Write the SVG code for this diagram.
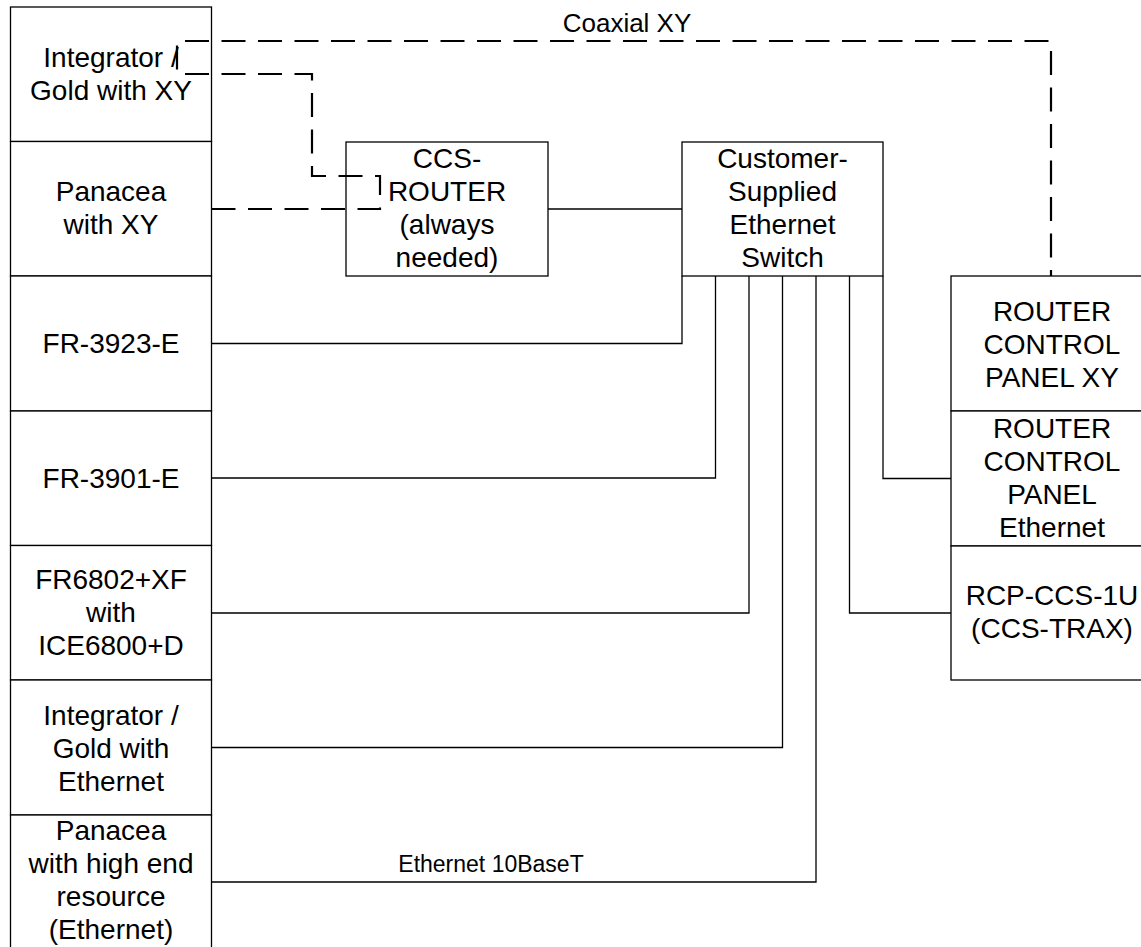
<svg xmlns="http://www.w3.org/2000/svg" width="1141" height="947" viewBox="0 0 1141 947">
<style>
.box{fill:#fff;stroke:#000;stroke-width:1.3}
.t{font-family:"Liberation Sans",Arial,sans-serif;font-size:28px;fill:#000;text-anchor:middle}
.lbl{font-family:"Liberation Sans",Arial,sans-serif;fill:#000;text-anchor:middle}
.wire{fill:none;stroke:#000;stroke-width:1.3}
.coax{fill:none;stroke:#000;stroke-width:2.2;stroke-dasharray:24 12.5}
</style>
<rect width="1141" height="947" fill="#fff"/>
<g id="integrator-xy">
<rect class="box" x="10.5" y="7" width="201" height="134.5"/>
<text class="t" x="111" y="66.5">Integrator /</text>
<text class="t" x="111" y="99.5">Gold with XY</text>
</g>
<g id="panacea-xy">
<rect class="box" x="10.5" y="141.5" width="201" height="134.5"/>
<text class="t" x="111" y="201">Panacea</text>
<text class="t" x="111" y="234">with XY</text>
</g>
<g id="fr3923">
<rect class="box" x="10.5" y="276" width="201" height="135"/>
<text class="t" x="111" y="353">FR-3923-E</text>
</g>
<g id="fr3901">
<rect class="box" x="10.5" y="411" width="201" height="134.5"/>
<text class="t" x="111" y="487.5">FR-3901-E</text>
</g>
<g id="fr6802">
<rect class="box" x="10.5" y="545.5" width="201" height="134.5"/>
<text class="t" x="111" y="589">FR6802+XF</text>
<text class="t" x="111" y="622">with</text>
<text class="t" x="111" y="655">ICE6800+D</text>
</g>
<g id="integrator-eth">
<rect class="box" x="10.5" y="680" width="201" height="135"/>
<text class="t" x="111" y="725">Integrator /</text>
<text class="t" x="111" y="758">Gold with</text>
<text class="t" x="111" y="791">Ethernet</text>
</g>
<g id="panacea-eth">
<rect class="box" x="10.5" y="815" width="201" height="140"/>
<text class="t" x="111" y="840">Panacea</text>
<text class="t" x="111" y="873">with high end</text>
<text class="t" x="111" y="906">resource</text>
<text class="t" x="111" y="939">(Ethernet)</text>
</g>
<g id="ccs-router">
<rect class="box" x="346" y="142" width="202" height="134"/>
<text class="t" x="447" y="168">CCS-</text>
<text class="t" x="447" y="201">ROUTER</text>
<text class="t" x="447" y="234">(always</text>
<text class="t" x="447" y="267">needed)</text>
</g>
<g id="switch">
<rect class="box" x="682" y="142" width="201" height="134"/>
<text class="t" x="782.5" y="168">Customer-</text>
<text class="t" x="782.5" y="201">Supplied</text>
<text class="t" x="782.5" y="234">Ethernet</text>
<text class="t" x="782.5" y="267">Switch</text>
</g>
<g id="rcp-xy">
<rect class="box" x="951" y="276" width="202" height="135"/>
<text class="t" x="1052" y="321">ROUTER</text>
<text class="t" x="1052" y="354">CONTROL</text>
<text class="t" x="1052" y="387">PANEL XY</text>
</g>
<g id="rcp-eth">
<rect class="box" x="951" y="411" width="202" height="135"/>
<text class="t" x="1052" y="438">ROUTER</text>
<text class="t" x="1052" y="471">CONTROL</text>
<text class="t" x="1052" y="504">PANEL</text>
<text class="t" x="1052" y="537">Ethernet</text>
</g>
<g id="rcp-ccs-1u">
<rect class="box" x="951" y="546" width="202" height="134"/>
<text class="t" x="1052" y="605">RCP-CCS-1U</text>
<text class="t" x="1052" y="638">(CCS-TRAX)</text>
</g>
<g id="connectors">
<path class="wire" d="M548,209 H682"/>
<path class="wire" d="M682,276 V343.5 H211.5"/>
<path class="wire" d="M715.5,276 V478 H211.5"/>
<path class="wire" d="M749,276 V613 H211.5"/>
<path class="wire" d="M782.5,276 V747.5 H211.5"/>
<path class="wire" d="M816,276 V882 H211.5"/>
<path class="wire" d="M849.5,276 V613 H951"/>
<path class="wire" d="M883,276 V478.5 H951"/>
<path class="coax" d="M211.5,209 H380 V176 H312 V74 H177 V41 H1051 V276"/>
<text class="lbl" font-size="26" x="627" y="32">Coaxial XY</text>
<text class="lbl" font-size="23" x="491" y="872">Ethernet 10BaseT</text>
</g>
</svg>
